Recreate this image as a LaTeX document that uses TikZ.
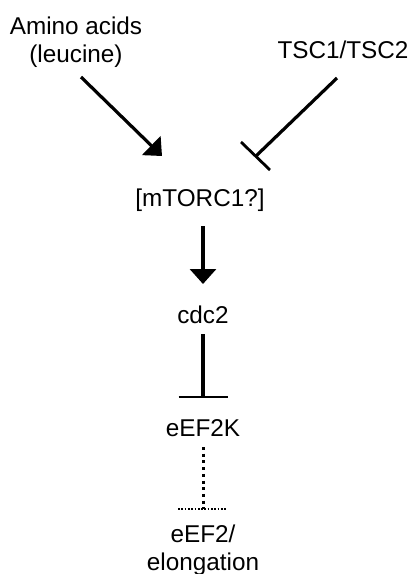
\documentclass[tikz,border=0pt]{standalone}
\usepackage{fontspec}
\setmainfont{Liberation Sans}
\usetikzlibrary{arrows.meta,calc}
\begin{document}
\begin{tikzpicture}[x=1pt,y=-1pt,
  lbl/.style={inner sep=0pt,font=\fontsize{24.3}{28}\selectfont,align=center},
  link/.style={line width=3.2pt},
  act/.style={link,-{Triangle[length=15pt,width=26pt]}},
  cut/.style={line width=3pt,dash pattern=on 3pt off 3.7pt}]
\useasboundingbox (0,0) rectangle (412,574);
% labels
\node[lbl] (aa)   at (76,42)  {Amino acids\\(leucine)};
\node[lbl] (tsc)  at (343,50) {TSC1/TSC2};
\node[lbl] (mtor) at (200,200) {[mTORC1?]};
\node[lbl] (cdc)  at (203,315) {cdc2};
\node[lbl] (ekin) at (203,428) {eEF2K};
\node[lbl] (eef)  at (203,550) {eEF2/\\elongation};
% connector ends
\coordinate (aaS)  at (81,77);
\coordinate (aaT)  at (162,156);
\coordinate (tscS) at (337,78);
\coordinate (tscT) at (256,156);
\coordinate (mtS)  at (203,226);
\coordinate (mtT)  at (203,284);
\coordinate (cdS)  at (203,334);
\coordinate (cdT)  at (203,397);
\coordinate (ekS)  at (203,447);
\coordinate (ekT)  at (203,509);
% amino acids activate mTORC1
\draw[act] (aaS) -- (aaT);
% TSC1/TSC2 inhibits mTORC1
\draw[link] (tscS) -- (tscT);
\draw[link,line width=2.8pt] ($(tscT)+(-15,-14)$) -- ($(tscT)+(14,14)$);
% mTORC1 activates cdc2
\draw[act] (mtS) -- (mtT);
% cdc2 inhibits eEF2K
\draw[link] (cdS) -- (cdT);
\draw[link,line width=2.6pt] ($(cdT)+(-24.5,0)$) -- ($(cdT)+(24.5,0)$);
% eEF2K inhibits eEF2 (indirect)
\draw[cut] (ekS) -- (ekT);
\draw[line width=1.8pt,dash pattern=on 1.7pt off 1.6pt] ($(ekT)+(-25,0)$) -- ($(ekT)+(24,0)$);
\end{tikzpicture}
\end{document}
